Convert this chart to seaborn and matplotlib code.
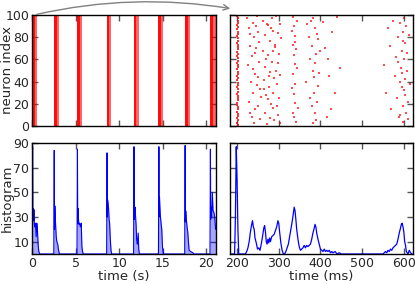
import matplotlib
matplotlib.use("Agg")
import matplotlib.pyplot as plt
import seaborn as sns
import numpy as np

# ---------------- data ----------------
# left raster: burst windows (s)
burst_start = [0.0, 2.52, 5.17, 8.55, 11.64, 14.50, 17.54, 20.42]
burst_core_end = [0.35, 2.85, 5.45, 8.85, 11.95, 14.78, 17.85, 20.75]
burst_end = [0.62, 3.12, 5.72, 9.10, 12.26, 15.00, 18.17, 21.05]

# left histogram (s, count)
hist_s_t = [0.04, 0.07, 0.10, 0.13, 0.18, 0.22, 0.27, 0.33, 0.40, 0.48, 0.55, 0.62, 0.70, 0.78, 0.90,
            2.50, 2.55, 2.58, 2.62, 2.67, 2.72, 2.78, 2.85, 2.95, 3.05, 3.15,
            5.16, 5.21, 5.24, 5.27, 5.32, 5.38, 5.45, 5.55, 5.65, 5.72, 5.80, 5.88,
            8.56, 8.61, 8.64, 8.67, 8.72, 8.78, 8.84, 8.90, 8.98, 9.06, 9.14,
            11.65, 11.70, 11.73, 11.77, 11.82, 11.88, 11.94, 12.00, 12.08, 12.18, 12.24, 12.32,
            14.50, 14.55, 14.58, 14.62, 14.67, 14.72, 14.80, 14.88, 14.96, 15.06,
            17.51, 17.56, 17.59, 17.63, 17.70, 17.78, 17.86, 17.94, 18.02, 18.20, 18.45, 18.55,
            20.41, 20.46, 20.49, 20.53, 20.60, 20.68, 20.76, 20.85, 20.95, 21.05]
hist_s_v = [0, 87, 30, 37, 27, 36, 24, 22, 25, 14, 25, 20, 8, 2, 0,
            0, 84, 20, 39, 30, 22, 14, 10, 8, 3, 0,
            0, 85, 25, 37, 29, 24, 25, 22, 25, 6, 2, 0,
            0, 82, 30, 44, 41, 37, 28, 25, 12, 3, 0,
            0, 87, 28, 36, 38, 30, 23, 12, 8, 17, 4, 0,
            0, 87, 30, 46, 38, 31, 25, 20, 6, 0,
            0, 88, 26, 35, 28, 22, 18, 10, 3, 2, 1, 0,
            0, 85, 28, 38, 30, 50, 35, 34, 30, 20]

# right histogram (ms, count)
hist_ms_t = [185, 190, 194, 196, 198, 200, 202, 204, 210, 215, 220, 223, 226, 229, 232, 235, 237, 239,
             241, 243, 246, 249, 252, 255, 258, 261, 264, 266, 268, 270, 272, 274, 276, 278, 280, 283,
             286, 289, 292, 295, 298, 300, 302, 305, 308, 311, 314, 317, 320, 323, 326, 329, 332, 335,
             337, 339, 341, 343, 346, 349, 352, 355, 358, 361, 364, 367, 370, 373, 376, 379, 382, 385,
             387, 389, 391, 394, 397, 400, 403, 406, 409, 412, 415, 418, 421, 424, 427, 430, 435, 440,
             445, 450, 460, 500, 550, 553, 556, 559, 562, 565, 568, 571, 574, 577, 580, 583, 586, 589,
             592, 594, 596, 598, 600, 602, 604, 606, 608, 610, 613, 616, 620]
hist_ms_v = [0, 0, 0, 30, 87, 60, 20, 0, 0, 0, 0, 2, 5, 10, 18, 24, 27, 22,
             20, 13, 9, 4, 5, 3, 8, 14, 21, 23, 18, 10, 8, 12, 9, 13, 10, 14,
             15, 16, 19, 22, 27, 25, 18, 9, 3, 0, 0, 2, 5, 8, 14, 20, 26, 33,
             38, 35, 28, 20, 12, 6, 3, 4, 5, 7, 5, 7, 6, 7, 8, 12, 17, 21,
             24, 22, 17, 12, 8, 4, 3, 2, 4, 2, 3, 2, 3, 1, 2, 1, 2, 0,
             1, 0, 0, 0, 0, 1, 2, 1, 3, 2, 4, 3, 5, 6, 7, 8, 12, 17,
             21, 24, 25, 22, 18, 10, 7, 2, 1, 0, 3, 1, 0]

# right raster: spikes (ms, neuron)
col200_t = [201, 200, 202, 199, 201, 203, 200, 201, 202, 200, 199, 201, 202, 201, 200, 203, 201, 200, 202, 201,
            200, 202, 199, 201, 203, 200, 201, 202, 200, 201, 202, 200, 201, 199, 202, 201, 203, 200, 201, 202,
            200, 201, 202, 199, 201, 200, 202, 201, 203, 200]
col200_n = [1, 3, 5, 7, 9, 11, 13, 15, 17, 19, 21, 23, 25, 27, 29, 31, 33, 35, 37, 39,
            41, 43, 45, 47, 49, 51, 53, 55, 57, 59, 61, 63, 65, 67, 69, 71, 73, 75, 77, 79,
            81, 83, 85, 87, 89, 91, 93, 95, 97, 99]
spike_t = [224, 228, 231, 226, 233, 229, 235, 238, 240, 236, 242, 239, 244, 241, 247, 250, 246, 252, 249, 254,
           251, 256, 245, 232, 243, 237, 253, 258, 230, 248,
           263, 266, 262, 268, 265, 270, 267, 272, 275, 278, 273, 280, 276, 282, 279, 284, 286, 283, 288, 285,
           287, 290, 269, 274, 281, 277, 289, 264, 271, 286,
           294, 297, 292, 299, 296, 301, 298, 303, 300, 302, 295, 304, 293, 305,
           333, 336, 338, 334, 337, 339, 335, 340, 336, 338, 334, 341, 343, 342, 344, 331, 332, 345, 339, 337,
           368, 372, 366, 375, 378, 380, 382, 384, 386, 388, 390, 385, 392, 389, 395, 383, 387, 394, 379, 391,
           397, 376, 381, 398,
           405, 412, 420, 428, 435, 418, 440, 426, 448, 415,
           553, 558, 562, 566, 570, 574, 578, 581, 584, 587, 589, 591, 593, 595, 596, 597, 598, 599, 600, 601,
           602, 603, 604, 605, 606, 607, 608, 610, 612, 614, 596, 594, 592, 600, 585, 611, 598, 590]
spike_n = [97, 88, 72, 55, 40, 22, 8, 93, 80, 63, 47, 30, 15, 3, 99, 85, 70, 58, 44, 33,
           18, 6, 90, 12, 66, 51, 76, 26, 83, 37,
           95, 82, 68, 53, 41, 28, 12, 2, 91, 77, 64, 49, 35, 20, 7, 97, 86, 58, 43, 30,
           16, 73, 60, 24, 88, 45, 5, 33, 92, 68,
           99, 84, 71, 57, 38, 25, 10, 92, 65, 46, 18, 3, 50, 79,
           98, 90, 81, 73, 64, 56, 47, 38, 29, 21, 12, 4, 95, 69, 52, 86, 34, 16, 76, 8,
           92, 80, 40, 60, 95, 72, 50, 30, 12, 88, 65, 44, 22, 5, 78, 97, 57, 36, 18, 83,
           48, 25, 3, 68,
           94, 70, 45, 85, 30, 60, 98, 15, 52, 8,
           55, 30, 88, 72, 15, 95, 45, 62, 25, 80, 8, 93, 52, 68, 35, 18, 85, 4, 60, 97,
           42, 75, 28, 12, 90, 50, 66, 22, 82, 38, 48, 100, 10, 32, 58, 6, 77, 40]

# ---------------- style ----------------
sns.set_style("ticks")
plt.rcParams["font.family"] = ["DejaVu Sans"]

TICK_FS = 9
LABEL_FS = 9.5

fig = plt.figure(figsize=(4.15, 2.84), dpi=100)
W, H = 415.0, 284.0
def box(x0, x1, y0, y1):
    return [x0 / W, 1 - y1 / H, (x1 - x0) / W, (y1 - y0) / H]

ax1 = fig.add_axes(box(32, 216, 15, 126))
ax2 = fig.add_axes(box(230, 413, 15, 126))
ax3 = fig.add_axes(box(32, 216, 143, 254))
ax4 = fig.add_axes(box(230, 413, 143, 254))

red = "#ff0000"
blue = "#0000ff"

# left raster
for s, c, e in zip(burst_start, burst_core_end, burst_end):
    ax1.axvspan(s, c, color=red, alpha=0.95, lw=0)
    ax1.axvspan(c, e, color=red, alpha=0.6, lw=0)
ax1.set_xlim(0, 21.1)
ax1.set_ylim(0, 100)
ax1.set_yticks([0, 20, 40, 60, 80, 100])
ax1.set_xticks([0, 5, 10, 15, 20])
ax1.set_xticklabels([])
ax1.set_ylabel("neuron index", fontsize=LABEL_FS)
ax1.yaxis.set_label_coords(-0.098, 0.5)

# right raster
sns.scatterplot(x=col200_t, y=col200_n, ax=ax2, color=red, marker="s", s=3, linewidth=0, alpha=0.8)
sns.scatterplot(x=spike_t, y=spike_n, ax=ax2, color=red, marker="s", s=3, linewidth=0, alpha=0.7)
ax2.set_xlim(183, 622)
ax2.set_ylim(0, 100)
ax2.set_yticks([0, 20, 40, 60, 80, 100])
ax2.set_xticks([200, 300, 400, 500, 600])
ax2.set_xticklabels([])
ax2.set_yticklabels([])

# left histogram
ax3.fill_between(hist_s_t, hist_s_v, color=blue, alpha=0.35, lw=0)
sns.lineplot(x=hist_s_t, y=hist_s_v, ax=ax3, color=blue, lw=0.8, sort=False, estimator=None)
ax3.set_xlim(0, 21.1)
ax3.set_ylim(0, 90)
ax3.set_yticks([10, 30, 50, 70, 90])
ax3.set_xticks([0, 5, 10, 15, 20])
ax3.set_ylabel("histogram", fontsize=LABEL_FS)
ax3.yaxis.set_label_coords(-0.098, 0.5)
ax3.set_xlabel("time (s)", fontsize=LABEL_FS, labelpad=0)

# right histogram
sns.lineplot(x=hist_ms_t, y=hist_ms_v, ax=ax4, color=blue, lw=0.9, sort=False, estimator=None)
ax4.set_xlim(183, 622)
ax4.set_ylim(0, 90)
ax4.set_yticks([10, 30, 50, 70, 90])
ax4.set_xticks([200, 300, 400, 500, 600])
ax4.set_yticklabels([])
ax4.set_xlabel("time (ms)", fontsize=LABEL_FS, labelpad=0)

for ax in (ax1, ax2, ax3, ax4):
    for sp in ax.spines.values():
        sp.set_visible(True)
        sp.set_color("black")
        sp.set_linewidth(1.0)
    ax.tick_params(direction="in", top=True, right=True, length=4, width=1,
                   color="#555555", labelsize=TICK_FS, pad=2)

# connecting arrow
ax1.annotate("", xy=(233 / W, 1 - 9 / H), xycoords="figure fraction",
             xytext=(34 / W, 1 - 15 / H), textcoords="figure fraction",
             arrowprops=dict(arrowstyle="->", color="gray", lw=1,
                             connectionstyle="arc3,rad=-0.1"),
             annotation_clip=False)

fig.savefig("out.png", dpi=100)
